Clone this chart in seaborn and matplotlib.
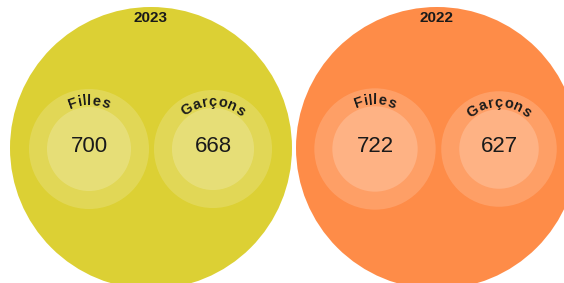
import numpy as np
import pandas as pd
import seaborn as sns
import matplotlib
matplotlib.use("Agg")
import matplotlib.pyplot as plt
from matplotlib.font_manager import FontProperties

# data
years = ["2023", "2022"]
groups = ["Filles", "Garçons"]
values_2023 = [700, 668]
values_2022 = [722, 627]
year_colors = ["#dcd034", "#fe8c48"]

sns.set_theme(style="white")
plt.rcParams['font.family'] = ['Liberation Sans', 'DejaVu Sans']

W, H = 564, 283
fig = plt.figure(figsize=(W / 100, H / 100), dpi=100)
ax = fig.add_axes([0, 0, 1, 1])
ax.set_xlim(0, W)
ax.set_ylim(H, 0)
ax.set_axis_off()


def s_for(r):
    # scatter size (pt^2) for a radius given in pixels (dpi 100)
    return (2 * r * 0.72) ** 2


big_r = 141
offset = 62
rows = []
inner = []
for i, (year, vals) in enumerate(zip(years, [values_2023, values_2022])):
    cx, cy = 151 + i * 286, 148
    rows.append({"year": year, "x": cx, "y": cy})
    for j, (g, v) in enumerate(zip(groups, vals)):
        r_in = 42 * np.sqrt(v / 700)
        inner.append({"year": year, "group": g, "value": v,
                      "x": cx + (2 * j - 1) * offset, "y": cy + 1,
                      "r_in": r_in, "r_out": r_in + 18})
big = pd.DataFrame(rows)
small = pd.DataFrame(inner)

sns.scatterplot(data=big, x="x", y="y", hue="year", palette=year_colors,
                s=s_for(big_r), linewidth=0, legend=False, ax=ax, zorder=1)
sns.scatterplot(data=small, x="x", y="y", color="white", alpha=0.17,
                s=[s_for(r) for r in small["r_out"]], linewidth=0,
                legend=False, ax=ax, zorder=2)
sns.scatterplot(data=small, x="x", y="y", color="white", alpha=0.2,
                s=[s_for(r) for r in small["r_in"]], linewidth=0,
                legend=False, ax=ax, zorder=3)
ax.set_xlim(0, W)
ax.set_ylim(H, 0)

# year labels
for _, row in big.iterrows():
    ax.text(row["x"], 18, row["year"], ha="center", va="center",
            fontsize=11, fontweight="bold", color="#1a1a1a")

renderer = fig.canvas.get_renderer()
fp = FontProperties(family=['Liberation Sans', 'DejaVu Sans'], weight="bold", size=10.5)


def text_w(s):
    w, _, _ = renderer.get_text_width_height_descent(s, fp, ismath=False)
    return w


def curved(cx, cy, R, s, spacing=0.3):
    total = text_w(s) + spacing * (len(s) - 1)
    for k, ch in enumerate(s):
        mid = text_w(s[:k]) + spacing * k + text_w(ch) / 2 - total / 2
        th = mid / R
        x = cx + R * np.sin(th)
        y = cy - R * np.cos(th)
        ax.text(x, y, ch, ha="center", va="baseline", rotation=-np.degrees(th),
                rotation_mode="anchor", fontproperties=fp, color="#1a1a1a",
                zorder=5)


for _, row in small.iterrows():
    curved(row["x"], row["y"], row["r_in"] + 2, row["group"])
    ax.text(row["x"], row["y"] - 3, str(row["value"]), ha="center", va="center",
            fontsize=16, color="#1a1a1a", zorder=5)

fig.savefig("out.png", dpi=100)
